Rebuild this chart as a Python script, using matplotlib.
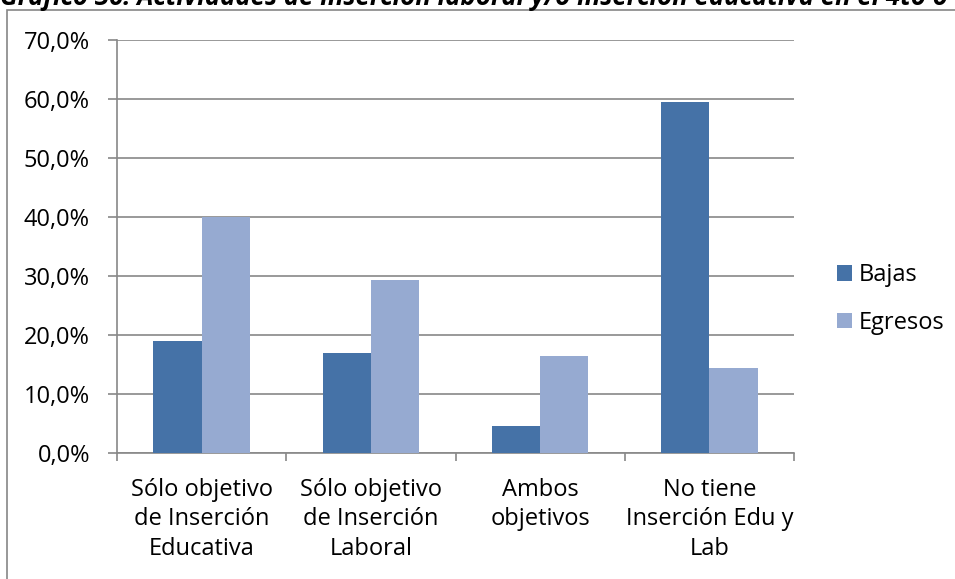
import matplotlib
matplotlib.use("Agg")
import matplotlib.pyplot as plt
from matplotlib.patches import Rectangle
from matplotlib.ticker import FuncFormatter, MultipleLocator
import numpy as np

categories = ["Sólo objetivo\nde Inserción\nEducativa", "Sólo objetivo\nde Inserción\nLaboral",
              "Ambos\nobjetivos", "No tiene\nInserción Edu y\nLab"]
bajas = [19.0, 16.9, 4.5, 59.5]
egresos = [40.0, 29.3, 16.4, 14.4]
series_names = ["Bajas", "Egresos"]
title = "Gráfico 36: Actividades de inserción laboral y/o inserción educativa en el 4to o"

plt.rcParams['font.family'] = ['Open Sans', 'DejaVu Sans']
W, H = 955, 579
fig = plt.figure(figsize=(W/100, H/100), dpi=100)
ax = fig.add_axes([117/W, 1-453/H, (794-117)/W, (453-40)/H])

grid_c = "#888888"
c1, c2 = "#4572A7", "#96AAD1"
fs = 17
x = np.arange(len(categories))
bw = 1/3.5
ax.bar(x - bw/2, bajas, bw, color=c1, label=series_names[0], zorder=3)
ax.bar(x + bw/2, egresos, bw, color=c2, label=series_names[1], zorder=3)

ax.set_xlim(-0.5, len(categories)-0.5)
ax.set_ylim(0, 70)
ax.yaxis.set_major_locator(MultipleLocator(10))
ax.yaxis.set_major_formatter(FuncFormatter(lambda v, p: f"{v:.1f}%".replace(".", ",")))
ax.grid(axis='y', color=grid_c, linewidth=1.2, zorder=0)
for s in ['top', 'right']:
    ax.spines[s].set_visible(False)
for s in ['left', 'bottom']:
    ax.spines[s].set_color(grid_c)
    ax.spines[s].set_linewidth(1.2)
ax.tick_params(axis='y', length=6.5, color=grid_c, width=1.2, labelsize=fs, pad=13)
ax.set_xticks(x)
ax.set_xticklabels(categories, fontsize=fs, linespacing=1.3)
ax.tick_params(axis='x', length=0, pad=18)
ax.set_xticks(np.arange(-0.5, len(categories)), minor=True)
ax.tick_params(axis='x', which='minor', length=5.8, color=grid_c, width=1.2)

leg = fig.legend(loc='upper left', bbox_to_anchor=(837/W, 1-263/H), frameon=False,
                 fontsize=fs, handlelength=0.64, handleheight=0.64, labelspacing=1.0,
                 handletextpad=0.3, borderpad=0, borderaxespad=0)

fig.patches.append(Rectangle((7/W, -0.1), 2, (H-10)/H + 0.1, transform=fig.transFigure,
                             fill=False, edgecolor="#868686", linewidth=1.2))
fig.text(0, 1-5/H, title, fontsize=18.5, fontweight='bold', fontstyle='italic', va='baseline', ha='left')

fig.savefig("out.png", dpi=100)
